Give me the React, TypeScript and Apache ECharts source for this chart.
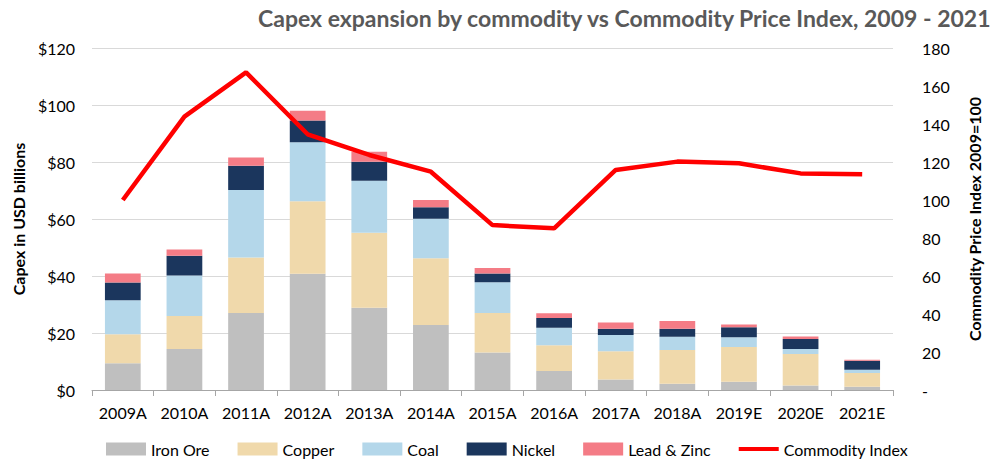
import React, { useEffect, useRef } from "react";
import * as echarts from "echarts";

const years = ["2009A", "2010A", "2011A", "2012A", "2013A", "2014A", "2015A", "2016A", "2017A", "2018A", "2019E", "2020E", "2021E"];
const ironOre = [9.4, 14.4, 27.0, 40.8, 28.9, 22.8, 13.2, 6.7, 3.7, 2.2, 2.9, 1.6, 1.1];
const copper = [10.2, 11.6, 19.5, 25.4, 26.3, 23.4, 13.8, 9.0, 9.9, 11.8, 12.2, 11.0, 4.9];
const coal = [11.9, 14.2, 23.7, 20.7, 18.2, 13.9, 10.8, 6.1, 5.7, 4.7, 3.4, 1.8, 1.1];
const nickel = [6.2, 6.9, 8.5, 7.7, 6.7, 4.0, 3.1, 3.5, 2.2, 2.8, 3.5, 3.5, 3.2];
const leadZinc = [3.2, 2.2, 2.9, 3.4, 3.5, 2.6, 1.9, 1.6, 2.2, 2.7, 1.0, 0.9, 0.3];
const commodityIndex = [100, 143.9, 167.2, 134.6, 123.7, 114.9, 86.8, 85.1, 115.8, 120.2, 119.3, 114, 113.5];

const FONT = "Lato, 'Open Sans', sans-serif";

export default function App() {
  const ref = useRef<HTMLDivElement>(null);
  useEffect(() => {
    if (!ref.current) return;
    const chart = echarts.init(ref.current, null, { renderer: "svg" });
    const barSeries = (name: string, data: number[], color: string) => ({
      name,
      type: "bar",
      stack: "capex",
      data,
      barCategoryGap: "42%",
      itemStyle: { color },
    });
    chart.setOption({
      animation: false,
      textStyle: { fontFamily: FONT },
      title: {
        text: "Capex expansion by commodity vs Commodity Price Index, 2009 - 2021",
        left: 253,
        top: 1,
        textStyle: { fontFamily: FONT, fontSize: 23, fontWeight: "bold", color: "#595959" },
      },
      legend: {
        bottom: 2,
        left: 101,
        itemWidth: 40,
        itemHeight: 13,
        itemGap: 28,
        textStyle: { fontFamily: FONT, fontSize: 16, color: "#000" },
        data: [
          { name: "Iron Ore", icon: "rect" },
          { name: "Copper", icon: "rect" },
          { name: "Coal", icon: "rect" },
          { name: "Nickel", icon: "rect" },
          { name: "Lead & Zinc", icon: "rect" },
          { name: "Commodity Index", icon: "path://M0,0L40,0L40,4L0,4Z" },
        ],
      },
      grid: { left: 92, right: 82, top: 48, bottom: 74 },
      xAxis: {
        type: "category",
        data: years,
        axisLine: { lineStyle: { color: "#a6a6a6", width: 1 } },
        axisTick: { show: true, length: 6, lineStyle: { color: "#a6a6a6" } },
        axisLabel: { color: "#000", fontSize: 16, fontFamily: FONT, margin: 14, interval: 0 },
      },
      yAxis: [
        {
          type: "value",
          min: 0,
          max: 120,
          interval: 20,
          name: "Capex in USD billions",
          nameLocation: "middle",
          nameGap: 66,
          nameRotate: 90,
          nameTextStyle: { fontFamily: FONT, fontSize: 16, fontWeight: "bold", color: "#000" },
          axisLine: { show: false },
          axisTick: { show: false },
          axisLabel: { color: "#000", fontSize: 16, fontFamily: FONT, margin: 17, formatter: (v: number) => "$" + v },
          splitLine: { lineStyle: { color: "#d9d9d9", width: 1 } },
        },
        {
          type: "value",
          min: 0,
          max: 180,
          interval: 30,
          position: "right",
          name: "Commodity Price Index 2009=100",
          nameLocation: "middle",
          nameGap: 73,
          nameRotate: 90,
          nameTextStyle: { fontFamily: FONT, fontSize: 16, fontWeight: "bold", color: "#000" },
          axisLine: { show: false },
          axisTick: { show: false },
          axisLabel: {
            color: "#000",
            fontSize: 16,
            fontFamily: FONT,
            margin: 29,
            customValues: [0, 20, 40, 60, 80, 100, 120, 140, 160, 180],
            formatter: (v: number) => (v === 0 ? "-" : String(v)),
          },
          splitLine: { show: false },
        },
      ],
      series: [
        barSeries("Iron Ore", ironOre, "#bfbfbf"),
        barSeries("Copper", copper, "#f0d9ab"),
        barSeries("Coal", coal, "#b4d7ea"),
        barSeries("Nickel", nickel, "#1b365d"),
        barSeries("Lead & Zinc", leadZinc, "#f47c86"),
        {
          name: "Commodity Index",
          type: "line",
          yAxisIndex: 1,
          data: commodityIndex,
          symbol: "none",
          lineStyle: { color: "#ff0000", width: 4.5 },
          itemStyle: { color: "#ff0000" },
        },
      ],
    });
    return () => chart.dispose();
  }, []);
  return <div ref={ref} style={{ width: 990, height: 464, position: "absolute", left: 0, top: 0 }} />;
}
